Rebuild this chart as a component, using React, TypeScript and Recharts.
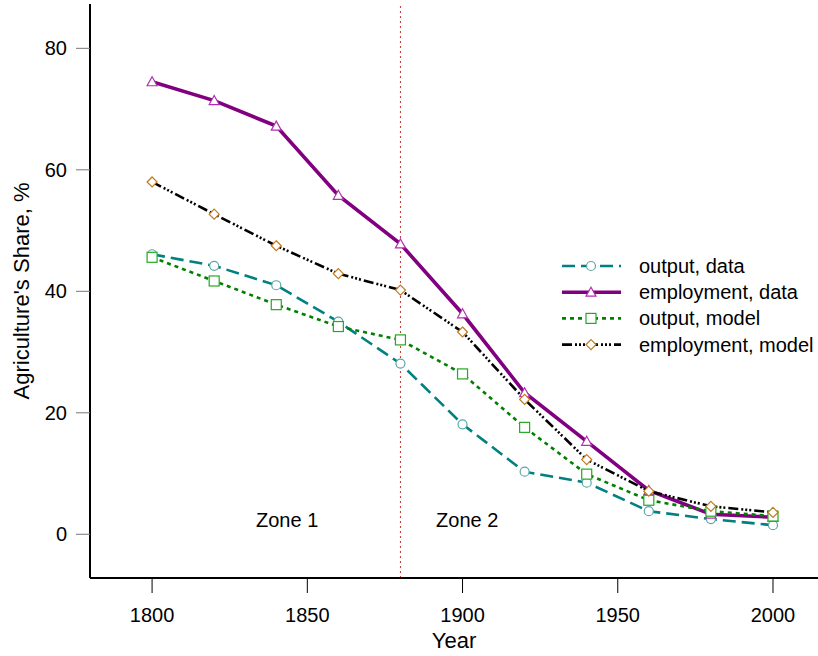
import React from 'react';
import { LineChart, Line, XAxis, YAxis, ReferenceLine, ReferenceDot } from 'recharts';

const years = [1800, 1820, 1840, 1860, 1880, 1900, 1920, 1940, 1960, 1980, 2000];
const outputData = [46.1, 44.2, 41.0, 35.0, 28.1, 18.1, 10.3, 8.5, 3.8, 2.5, 1.5];
const employmentData = [74.5, 71.4, 67.2, 55.8, 47.8, 36.3, 23.3, 15.3, 7.2, 3.3, 2.8];
const outputModel = [45.6, 41.7, 37.8, 34.2, 32.0, 26.4, 17.6, 9.9, 5.6, 3.8, 3.0];
const employmentModel = [58.0, 52.7, 47.5, 42.9, 40.2, 33.3, 22.2, 12.3, 7.1, 4.6, 3.6];

const xTicks = [1800, 1850, 1900, 1950, 2000];
const yTicks = [0, 20, 40, 60, 80];

const FONT = '"Liberation Sans", Arial, sans-serif';

const rows = years.map((year, i) => ({
  year,
  outData: outputData[i],
  empData: employmentData[i],
  outModel: outputModel[i],
  empModel: employmentModel[i],
}));

// marker shapes, white filled like the original
const circle = (color: string) => (p: any) => (
  <circle key={p.index} cx={p.cx} cy={p.cy} r={4.5} fill="#fff" stroke={color} strokeWidth={1.2} />
);
const triangle = (color: string) => (p: any) => (
  <path key={p.index} d={`M${p.cx},${p.cy - 5} L${p.cx + 5},${p.cy + 4} L${p.cx - 5},${p.cy + 4} Z`} fill="#fff" stroke={color} strokeWidth={1.2} />
);
const square = (color: string) => (p: any) => (
  <rect key={p.index} x={p.cx - 5} y={p.cy - 5} width={10} height={10} fill="#fff" stroke={color} strokeWidth={1.2} />
);
const diamond = (color: string) => (p: any) => (
  <path key={p.index} d={`M${p.cx},${p.cy - 5} L${p.cx + 5},${p.cy} L${p.cx},${p.cy + 5} L${p.cx - 5},${p.cy} Z`} fill="#fff" stroke={color} strokeWidth={1.2} />
);

const series = [
  { key: 'outData', name: 'output, data', stroke: '#008080', width: 2.6, dash: '13 6', marker: circle, mColor: '#5aa8a8' },
  { key: 'empData', name: 'employment, data', stroke: '#800080', width: 3.6, dash: undefined, marker: triangle, mColor: '#b030b0' },
  { key: 'outModel', name: 'output, model', stroke: '#008000', width: 2.6, dash: '4 4', marker: square, mColor: '#22aa22' },
  { key: 'empModel', name: 'employment, model', stroke: '#000000', width: 2.6, dash: '10 3 2 2 2 2 2 3', marker: diamond, mColor: '#c07a20' },
];

function LegendBox() {
  return (
    <svg width={263} height={115} style={{ position: 'absolute', left: 555, top: 250 }}>
      {series.map((s, i) => {
        const y = 16 + i * 26.2;
        const M = s.marker(s.mColor);
        return (
          <g key={s.key}>
            <line x1={7} x2={66} y1={y} y2={y} stroke={s.stroke} strokeWidth={s.width} strokeDasharray={s.dash} />
            {M({ cx: 36, cy: y, index: i })}
            <text x={84} y={y + 7} fontSize={20} fontFamily={FONT} fill="#000">{s.name}</text>
          </g>
        );
      })}
    </svg>
  );
}

export default function App() {
  return (
    <div style={{ position: 'absolute', left: 0, top: 0, width: 818, height: 656, background: '#fff' }}>
      <LineChart width={818} height={656} data={rows} margin={{ top: 4, right: 0, bottom: 0, left: 0 }}>
        <XAxis
          dataKey="year"
          type="number"
          domain={[1780, 2014.5]}
          ticks={xTicks}
          allowDataOverflow
          height={78}
          tickSize={15}
          tickMargin={15}
          stroke="#000"
          tick={{ fill: '#000', fontSize: 20, fontFamily: FONT }}
          axisLine={{ stroke: '#000', strokeWidth: 2 }}
          tickLine={{ stroke: '#000', strokeWidth: 1 }}
          label={{ value: 'Year', position: 'insideBottom', offset: 8, fill: '#000', fontSize: 22, fontFamily: FONT }}
        />
        <YAxis
          type="number"
          domain={[-7.2, 87.3]}
          ticks={yTicks}
          allowDataOverflow
          width={90}
          tickSize={14}
          tickMargin={9}
          tick={{ fill: '#000', fontSize: 20, fontFamily: FONT }}
          axisLine={{ stroke: '#000', strokeWidth: 2 }}
          tickLine={{ stroke: '#777', strokeWidth: 1 }}
          label={{ value: "Agriculture's Share, %", angle: -90, position: 'insideLeft', offset: 21, style: { textAnchor: 'middle' }, fill: '#000', fontSize: 22, fontFamily: FONT }}
        />
        <ReferenceLine x={1880} stroke="#c83232" strokeWidth={1} strokeDasharray="2 3" />
        <ReferenceDot x={1843.5} y={2.35} r={0} fill="none" stroke="none" label={{ value: 'Zone 1', position: 'center', fill: '#000', fontSize: 20, fontFamily: FONT }} />
        <ReferenceDot x={1901.5} y={2.35} r={0} fill="none" stroke="none" label={{ value: 'Zone 2', position: 'center', fill: '#000', fontSize: 20, fontFamily: FONT }} />
        {series.map((s) => (
          <Line
            key={s.key}
            type="linear"
            dataKey={s.key}
            name={s.name}
            stroke={s.stroke}
            strokeWidth={s.width}
            strokeDasharray={s.dash}
            dot={s.marker(s.mColor)}
            activeDot={false}
            isAnimationActive={false}
          />
        ))}
      </LineChart>
      <LegendBox />
    </div>
  );
}
